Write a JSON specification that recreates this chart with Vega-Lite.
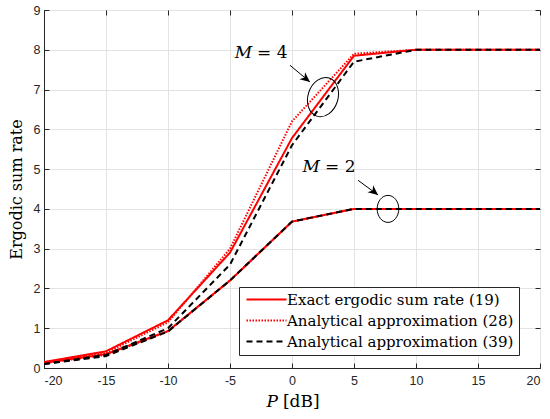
{
  "$schema": "https://vega.github.io/schema/vega-lite/v6.json",
  "width": 496,
  "height": 358,
  "autosize": {"type": "none"},
  "padding": {"left": 44, "top": 10, "right": 10, "bottom": 51},
  "background": "white",
  "datasets": {
    "rates": [
      {"method": "Analytical approximation (28)", "M": 4, "P": -20, "rate": 0.14},
      {"method": "Analytical approximation (28)", "M": 4, "P": -15, "rate": 0.38},
      {"method": "Analytical approximation (28)", "M": 4, "P": -10, "rate": 1.15},
      {"method": "Analytical approximation (28)", "M": 4, "P": -5, "rate": 3.0},
      {"method": "Analytical approximation (28)", "M": 4, "P": 0, "rate": 6.2},
      {"method": "Analytical approximation (28)", "M": 4, "P": 5, "rate": 7.9},
      {"method": "Analytical approximation (28)", "M": 4, "P": 10, "rate": 8.0},
      {"method": "Analytical approximation (28)", "M": 4, "P": 15, "rate": 8.0},
      {"method": "Analytical approximation (28)", "M": 4, "P": 20, "rate": 8.0},
      {"method": "Analytical approximation (28)", "M": 2, "P": -20, "rate": 0.12},
      {"method": "Analytical approximation (28)", "M": 2, "P": -15, "rate": 0.33},
      {"method": "Analytical approximation (28)", "M": 2, "P": -10, "rate": 0.92},
      {"method": "Analytical approximation (28)", "M": 2, "P": -5, "rate": 2.2},
      {"method": "Analytical approximation (28)", "M": 2, "P": 0, "rate": 3.68},
      {"method": "Analytical approximation (28)", "M": 2, "P": 5, "rate": 4.0},
      {"method": "Analytical approximation (28)", "M": 2, "P": 10, "rate": 4.0},
      {"method": "Analytical approximation (28)", "M": 2, "P": 15, "rate": 4.0},
      {"method": "Analytical approximation (28)", "M": 2, "P": 20, "rate": 4.0},
      {"method": "Exact ergodic sum rate (19)", "M": 4, "P": -20, "rate": 0.15},
      {"method": "Exact ergodic sum rate (19)", "M": 4, "P": -15, "rate": 0.42},
      {"method": "Exact ergodic sum rate (19)", "M": 4, "P": -10, "rate": 1.2},
      {"method": "Exact ergodic sum rate (19)", "M": 4, "P": -5, "rate": 2.9},
      {"method": "Exact ergodic sum rate (19)", "M": 4, "P": 0, "rate": 5.78},
      {"method": "Exact ergodic sum rate (19)", "M": 4, "P": 5, "rate": 7.85},
      {"method": "Exact ergodic sum rate (19)", "M": 4, "P": 10, "rate": 8.0},
      {"method": "Exact ergodic sum rate (19)", "M": 4, "P": 15, "rate": 8.0},
      {"method": "Exact ergodic sum rate (19)", "M": 4, "P": 20, "rate": 8.0},
      {"method": "Exact ergodic sum rate (19)", "M": 2, "P": -20, "rate": 0.13},
      {"method": "Exact ergodic sum rate (19)", "M": 2, "P": -15, "rate": 0.35},
      {"method": "Exact ergodic sum rate (19)", "M": 2, "P": -10, "rate": 0.93},
      {"method": "Exact ergodic sum rate (19)", "M": 2, "P": -5, "rate": 2.2},
      {"method": "Exact ergodic sum rate (19)", "M": 2, "P": 0, "rate": 3.68},
      {"method": "Exact ergodic sum rate (19)", "M": 2, "P": 5, "rate": 4.0},
      {"method": "Exact ergodic sum rate (19)", "M": 2, "P": 10, "rate": 4.0},
      {"method": "Exact ergodic sum rate (19)", "M": 2, "P": 15, "rate": 4.0},
      {"method": "Exact ergodic sum rate (19)", "M": 2, "P": 20, "rate": 4.0},
      {"method": "Analytical approximation (39)", "M": 4, "P": -20, "rate": 0.1},
      {"method": "Analytical approximation (39)", "M": 4, "P": -15, "rate": 0.33},
      {"method": "Analytical approximation (39)", "M": 4, "P": -10, "rate": 1.0},
      {"method": "Analytical approximation (39)", "M": 4, "P": -5, "rate": 2.6},
      {"method": "Analytical approximation (39)", "M": 4, "P": 0, "rate": 5.6},
      {"method": "Analytical approximation (39)", "M": 4, "P": 5, "rate": 7.7},
      {"method": "Analytical approximation (39)", "M": 4, "P": 10, "rate": 8.0},
      {"method": "Analytical approximation (39)", "M": 4, "P": 15, "rate": 8.0},
      {"method": "Analytical approximation (39)", "M": 4, "P": 20, "rate": 8.0},
      {"method": "Analytical approximation (39)", "M": 2, "P": -20, "rate": 0.1},
      {"method": "Analytical approximation (39)", "M": 2, "P": -15, "rate": 0.3},
      {"method": "Analytical approximation (39)", "M": 2, "P": -10, "rate": 0.92},
      {"method": "Analytical approximation (39)", "M": 2, "P": -5, "rate": 2.2},
      {"method": "Analytical approximation (39)", "M": 2, "P": 0, "rate": 3.68},
      {"method": "Analytical approximation (39)", "M": 2, "P": 5, "rate": 4.0},
      {"method": "Analytical approximation (39)", "M": 2, "P": 10, "rate": 4.0},
      {"method": "Analytical approximation (39)", "M": 2, "P": 15, "rate": 4.0},
      {"method": "Analytical approximation (39)", "M": 2, "P": 20, "rate": 4.0}
    ],
    "labels": [
      {"sym": "M", "rest": "= 4", "P": -3.06, "rate": 7.91},
      {"sym": "M", "rest": "= 2", "P": 2.42, "rate": 5.05},
      {"sym": "P", "rest": "[dB]", "P": -0.97, "rate": -0.85}
    ],
    "arrows": [
      {"M": 4, "P0": -0.16, "rate0": 7.61, "P": 1.45, "rate": 7.19},
      {"M": 2, "P0": 5.32, "rate0": 4.72, "P": 6.94, "rate": 4.35}
    ],
    "rings": [
      {"M": 4, "P": 2.5, "rate": 6.81},
      {"M": 2, "P": 7.74, "rate": 4.0}
    ]
  },
  "layer": [
    {
      "encoding": {
        "x": {
          "field": "P", "type": "quantitative",
          "scale": {"domain": [-20, 20], "nice": false},
          "axis": {
            "title": null,
            "values": [-20, -15, -10, -5, 0, 5, 10, 15, 20],
            "labelExpr": "'' + datum.value",
            "tickSize": -5,
            "labelPadding": 11
          }
        },
        "y": {
          "field": "rate", "type": "quantitative",
          "scale": {"domain": [0, 9], "nice": false},
          "axis": {
            "title": "Ergodic sum rate",
            "values": [0, 1, 2, 3, 4, 5, 6, 7, 8, 9],
            "labelOverlap": false,
            "tickSize": -5,
            "labelPadding": 9,
            "titlePadding": 9
          }
        }
      },
      "layer": [
        {
          "data": {"name": "rates"},
          "mark": {"type": "line", "strokeWidth": 2, "clip": true},
          "encoding": {
            "detail": {"field": "M"},
            "color": {
              "field": "method", "type": "nominal",
              "scale": {
                "domain": ["Exact ergodic sum rate (19)", "Analytical approximation (28)", "Analytical approximation (39)"],
                "range": ["#ff0000", "#ff0000", "#000000"]
              },
              "legend": {
                "orient": "none", "legendX": 195, "legendY": 277,
                "title": null, "strokeColor": "#262626", "fillColor": "white",
                "padding": 5, "labelFont": "DejaVu Serif", "labelFontSize": 15,
                "labelColor": "black", "labelLimit": 400,
                "symbolType": "M -4 0 L 4 0", "symbolSize": 100, "symbolOffset": 15,
                "symbolStrokeWidth": 2, "rowPadding": 5, "labelOffset": 13
              }
            },
            "strokeDash": {
              "field": "method", "type": "nominal",
              "scale": {
                "domain": ["Exact ergodic sum rate (19)", "Analytical approximation (28)", "Analytical approximation (39)"],
                "range": [[1, 0], [1.5, 1.5], [6, 4]]
              },
              "legend": {
                "orient": "none", "legendX": 195, "legendY": 277,
                "title": null, "strokeColor": "#262626", "fillColor": "white",
                "padding": 5, "labelFont": "DejaVu Serif", "labelFontSize": 15,
                "labelColor": "black", "labelLimit": 400,
                "symbolType": "M -4 0 L 4 0", "symbolSize": 100, "symbolOffset": 15,
                "symbolStrokeWidth": 2, "rowPadding": 5, "labelOffset": 13
              }
            }
          }
        },
        {
          "data": {"name": "labels"},
          "mark": {"type": "text", "font": "DejaVu Serif", "fontStyle": "italic", "fontSize": 17, "color": "black", "align": "right", "baseline": "middle", "dx": -2},
          "encoding": {"text": {"field": "sym"}}
        },
        {
          "data": {"name": "labels"},
          "mark": {"type": "text", "font": "DejaVu Serif", "fontSize": 17, "color": "black", "align": "left", "baseline": "middle", "dx": 3},
          "encoding": {"text": {"field": "rest"}}
        },
        {
          "data": {"name": "arrows"},
          "mark": {"type": "rule", "color": "black", "strokeWidth": 1},
          "encoding": {
            "x2": {"field": "P0"},
            "y2": {"field": "rate0"}
          }
        },
        {
          "data": {"name": "arrows"},
          "mark": {"type": "point", "shape": "M 0 0 L -1 -0.45 L -0.7 0 L -1 0.45 Z", "filled": true, "color": "black", "size": 400, "angle": 39, "opacity": 1}
        },
        {
          "data": {"name": "rings"},
          "transform": [{"filter": "datum.M == 4"}],
          "mark": {"type": "point", "shape": "M -0.75 0 A 0.75 1 0 1 0 0.75 0 A 0.75 1 0 1 0 -0.75 0 Z", "filled": false, "color": "black", "strokeWidth": 1, "size": 1600, "angle": 18, "opacity": 1}
        },
        {
          "data": {"name": "rings"},
          "transform": [{"filter": "datum.M == 2"}],
          "mark": {"type": "point", "shape": "M -0.8 0 A 0.8 1 0 1 0 0.8 0 A 0.8 1 0 1 0 -0.8 0 Z", "filled": false, "color": "black", "strokeWidth": 1, "size": 730, "opacity": 1}
        }
      ]
    },
    {
      "data": {"name": "rings"},
      "mark": {"type": "point", "opacity": 0},
      "encoding": {
        "x": {
          "field": "P", "type": "quantitative",
          "scale": {"domain": [-20, 20], "nice": false},
          "axis": {"orient": "top", "title": null, "labels": false, "grid": false, "domain": false, "tickSize": -5, "values": [-20, -15, -10, -5, 0, 5, 10, 15, 20]}
        },
        "y": {
          "field": "rate", "type": "quantitative",
          "scale": {"domain": [0, 9], "nice": false},
          "axis": {"orient": "right", "title": null, "labels": false, "grid": false, "domain": false, "tickSize": -5, "values": [0, 1, 2, 3, 4, 5, 6, 7, 8, 9]}
        }
      }
    }
  ],
  "resolve": {"scale": {"x": "independent", "y": "independent"}},
  "config": {
    "view": {"stroke": "#262626", "strokeWidth": 1},
    "axis": {
      "domainColor": "#262626",
      "tickColor": "#262626",
      "labelColor": "#262626",
      "labelFont": "Liberation Sans",
      "labelFontSize": 12.5,
      "gridColor": "#e3e3e3",
      "grid": true,
      "titleFont": "DejaVu Serif",
      "titleFontSize": 16,
      "titleFontWeight": "normal",
      "titleColor": "black"
    }
  }
}
